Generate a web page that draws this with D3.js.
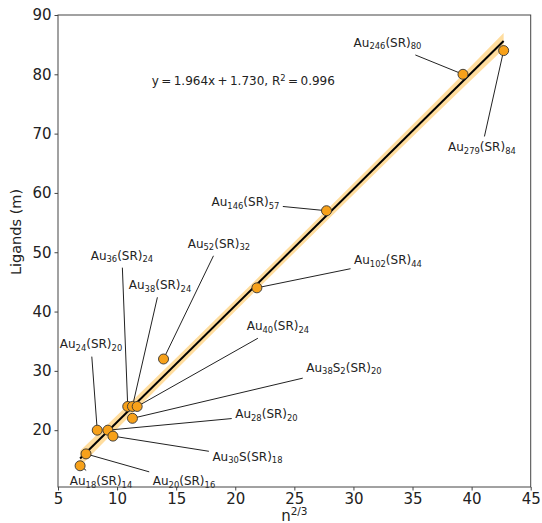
<!DOCTYPE html>
<html>
<head>
<meta charset="utf-8">
<script src="https://cdn.jsdelivr.net/npm/d3@7"></script>
<style>
  html, body { margin: 0; padding: 0; background: #fff; }
  svg { display: block; font-family: "DejaVu Sans", sans-serif; }
</style>
</head>
<body>
<svg id="chart" width="542" height="523"></svg>
<script>
// ---- data ----
const labels = ["Au_{18}(SR)_{14}", "Au_{20}(SR)_{16}", "Au_{24}(SR)_{20}", "Au_{28}(SR)_{20}",
  "Au_{30}S(SR)_{18}", "Au_{36}(SR)_{24}", "Au_{38}(SR)_{24}", "Au_{40}(SR)_{24}",
  "Au_{38}S_{2}(SR)_{20}", "Au_{52}(SR)_{32}", "Au_{102}(SR)_{44}", "Au_{146}(SR)_{57}",
  "Au_{246}(SR)_{80}", "Au_{279}(SR)_{84}"];
const xVals = [6.87, 7.37, 8.32, 9.22, 9.65, 10.90, 11.30, 11.70, 11.30, 13.93, 21.83, 27.72, 39.27, 42.71];
const yVals = [14, 16, 20, 20, 19, 24, 24, 24, 22, 32, 44, 57, 80, 84];
// annotation text centres (data coordinates)
const labelX = [8.64, 15.66, 7.79, 22.64, 21.03, 10.41, 13.63, 23.61, 29.2, 18.62, 32.92, 20.86, 32.88, 40.87];
const labelY = [11.5, 11.5, 34.5, 22.7, 15.6, 49.5, 44.5, 37.6, 30.6, 51.5, 48.7, 58.52, 85.36, 67.8];
// fit
const fitSlope = 1.964, fitIntercept = 1.730, fitR2 = 0.996;
// confidence band half-width (in y units) along x
const bandX = [6.87, 12, 18, 24.8, 31, 37, 42.71];
const bandHalf = [1.3, 1.05, 0.95, 0.9, 0.95, 1.05, 1.35];
// ticks
const xTicks = [5, 10, 15, 20, 25, 30, 35, 40, 45];
const yTicks = [20, 30, 40, 50, 60, 70, 80, 90];
const xDomain = [5, 45], yDomain = [10.42, 90];

// ---- layout ----
const svg = d3.select("#chart");
const L = 58, R = 530.7, T = 15, B = 487;
const x = d3.scaleLinear().domain(xDomain).range([L, R]);
const y = d3.scaleLinear().domain(yDomain).range([B, T]);
const txtCol = "#222";

// band
const bandData = bandX.map((bx, i) => ({x: bx, lo: fitSlope*bx + fitIntercept - bandHalf[i], hi: fitSlope*bx + fitIntercept + bandHalf[i]}));
svg.append("path").datum(bandData)
  .attr("d", d3.area().x(d => x(d.x)).y0(d => y(d.lo)).y1(d => y(d.hi)).curve(d3.curveMonotoneX))
  .attr("fill", "#ffa500").attr("fill-opacity", 0.38);

// label text with subscripts
function addRich(g, str, fs) {
  const t = g.append("text").attr("font-size", fs).attr("fill", txtCol).attr("text-anchor", "middle");
  const re = /_\{([^}]*)\}|([^_]+)/g;
  let m, inSub = false;
  const shift = 0.22 * fs;
  while ((m = re.exec(str)) !== null) {
    if (m[1] !== undefined) {
      t.append("tspan").attr("font-size", fs * 0.7).attr("dy", inSub ? 0 : shift).text(m[1]);
      inSub = true;
    } else {
      t.append("tspan").attr("dy", inSub ? -shift : 0).text(m[2]);
      inSub = false;
    }
  }
  return t;
}

const annG = svg.append("g");
labels.forEach((lab, i) => {
  const cx = x(labelX[i]), cy = y(labelY[i]);
  const t = addRich(annG, lab, 12).attr("x", cx).attr("y", cy + 4.3);
  const bb = t.node().getBBox();
  const bcx = bb.x + bb.width / 2, bcy = bb.y + bb.height / 2;
  const px = x(xVals[i]), py = y(yVals[i]);
  const dx = px - bcx, dy = py - bcy;
  const pad = 3.5;
  const tx = dx === 0 ? Infinity : (bb.width / 2 + pad) / Math.abs(dx);
  const ty = dy === 0 ? Infinity : (bb.height / 2 + pad) / Math.abs(dy);
  const tt = Math.min(tx, ty);
  if (tt < 1) {
    svg.append("line")
      .attr("x1", bcx + dx * tt).attr("y1", bcy + dy * tt)
      .attr("x2", px).attr("y2", py)
      .attr("stroke", "#222").attr("stroke-width", 1);
  }
});

// fit line
const xmin = d3.min(xVals), xmax = d3.max(xVals);
svg.append("line")
  .attr("x1", x(xmin)).attr("y1", y(fitSlope*xmin + fitIntercept))
  .attr("x2", x(xmax)).attr("y2", y(fitSlope*xmax + fitIntercept))
  .attr("stroke", "#000").attr("stroke-width", 2);

// points
svg.append("g").selectAll("circle").data(xVals).join("circle")
  .attr("cx", (d, i) => x(d)).attr("cy", (d, i) => y(yVals[i])).attr("r", 5)
  .attr("fill", "#f7a11a").attr("stroke", "#333").attr("stroke-width", 0.9);

svg.node().appendChild(annG.node());

// equation
const eq = svg.append("text").attr("x", x(20.68)).attr("y", y(78.9) + 4.3)
  .attr("text-anchor", "middle").attr("font-size", 12).attr("fill", txtCol);
eq.append("tspan").text("y\u2009=\u20091.964x\u2009+\u20091.730, R");
eq.append("tspan").attr("font-size", 8.4).attr("dy", -4.5).text("2");
eq.append("tspan").attr("dy", 4.5).text("\u2009=\u20090.996");

// axes
const xAxis = svg.append("g").attr("transform", `translate(0,${B})`)
  .call(d3.axisBottom(x).tickValues(xTicks).tickFormat(d3.format("d")).tickSize(3.5).tickPadding(3));
const yAxis = svg.append("g").attr("transform", `translate(${L},0)`)
  .call(d3.axisLeft(y).tickValues(yTicks).tickFormat(d3.format("d")).tickSize(3.5).tickPadding(3));
[xAxis, yAxis].forEach(a => {
  a.select(".domain").remove();
  a.selectAll("text").attr("font-size", 15).attr("font-family", "DejaVu Sans").attr("fill", txtCol);
  a.selectAll("line").attr("stroke", "#444");
});
// frame
svg.append("rect").attr("x", L).attr("y", T).attr("width", R - L).attr("height", B - T)
  .attr("fill", "none").attr("stroke", "#444").attr("stroke-width", 1);

// axis labels
const xl = svg.append("text").attr("x", (L + R) / 2).attr("y", 521).attr("text-anchor", "middle")
  .attr("font-size", 15).attr("fill", txtCol);
xl.append("tspan").text("n");
xl.append("tspan").attr("font-size", 10.5).attr("dy", -6).text("2/3");

svg.append("text").attr("transform", `translate(21,232) rotate(-90)`)
  .attr("text-anchor", "middle").attr("font-size", 14.5).attr("fill", txtCol)
  .text("Ligands (m)");
</script>
</body>
</html>
